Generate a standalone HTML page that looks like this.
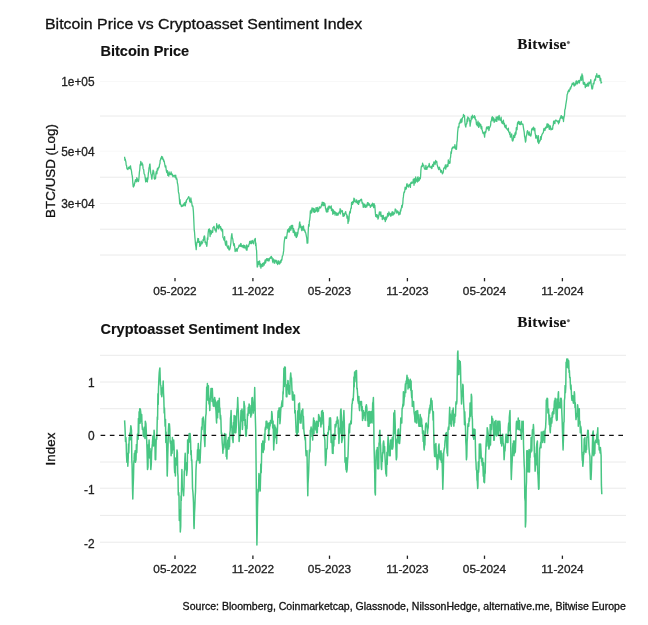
<!DOCTYPE html>
<html><head><meta charset="utf-8"><style>
html,body{margin:0;padding:0;background:#fff;}
svg{display:block;filter:blur(0.5px);}
</style></head><body>
<svg width="648" height="625" viewBox="0 0 648 625">
<rect width="648" height="625" fill="#fff"/>
<line x1="100" y1="81.5" x2="626" y2="81.5" stroke="#f8f8f8" stroke-width="1.0"/>
<line x1="100" y1="151.2" x2="626" y2="151.2" stroke="#f8f8f8" stroke-width="1.0"/>
<line x1="100" y1="203.5" x2="626" y2="203.5" stroke="#f2f2f2" stroke-width="1.0"/>
<line x1="100" y1="116.0" x2="626" y2="116.0" stroke="#eaeaea" stroke-width="1.0"/>
<line x1="100" y1="177.2" x2="626" y2="177.2" stroke="#eaeaea" stroke-width="1.0"/>
<line x1="100" y1="229.2" x2="626" y2="229.2" stroke="#eaeaea" stroke-width="1.0"/>
<line x1="100" y1="255.0" x2="626" y2="255.0" stroke="#eaeaea" stroke-width="1.0"/>
<line x1="100" y1="382.0" x2="626" y2="382.0" stroke="#eaeaea" stroke-width="1.0"/>
<line x1="100" y1="488.2" x2="626" y2="488.2" stroke="#eaeaea" stroke-width="1.0"/>
<line x1="100" y1="542.2" x2="626" y2="542.2" stroke="#eaeaea" stroke-width="1.0"/>
<line x1="100" y1="355.3" x2="626" y2="355.3" stroke="#eaeaea" stroke-width="1.0"/>
<line x1="100" y1="408.7" x2="626" y2="408.7" stroke="#eaeaea" stroke-width="1.0"/>
<line x1="100" y1="462.0" x2="626" y2="462.0" stroke="#eaeaea" stroke-width="1.0"/>
<line x1="100" y1="515.4" x2="626" y2="515.4" stroke="#eaeaea" stroke-width="1.0"/>
<path d="M124.6,156.8 L124.9,160.3 L125.3,159.0 L125.6,160.8 L125.9,162.0 L126.2,165.2 L126.6,165.7 L126.9,168.5 L127.3,169.1 L127.6,168.7 L127.9,169.6 L128.2,168.0 L128.6,167.3 L128.9,168.3 L129.2,168.6 L129.6,166.9 L129.9,168.4 L130.2,166.4 L130.5,165.9 L130.9,169.4 L131.1,169.1 L131.5,171.1 L131.9,174.3 L132.2,175.7 L132.5,177.8 L132.8,182.8 L133.2,186.7 L133.4,187.0 L133.8,186.2 L134.2,185.6 L134.5,182.9 L134.8,183.2 L135.1,181.4 L135.5,179.7 L135.8,181.3 L136.1,180.8 L136.5,181.8 L136.8,177.7 L137.1,178.4 L137.4,179.2 L137.8,180.2 L138.1,181.5 L138.5,181.4 L138.8,179.7 L139.1,175.9 L139.4,172.1 L139.8,169.5 L140.1,164.6 L140.4,165.4 L140.8,161.4 L141.1,164.7 L141.4,163.5 L141.8,165.0 L142.1,162.9 L142.3,163.5 L142.7,164.4 L143.1,168.4 L143.4,169.1 L143.7,169.7 L144.1,173.7 L144.4,174.3 L144.7,174.5 L145.1,177.2 L145.4,179.6 L145.7,181.8 L146.0,177.8 L146.3,181.4 L146.7,180.7 L147.0,178.8 L147.4,181.9 L147.7,177.5 L147.9,179.2 L148.4,172.8 L148.7,172.1 L149.0,167.8 L149.3,167.5 L149.7,164.2 L150.0,164.0 L150.3,168.7 L150.8,173.6 L151.3,175.1 L151.7,178.5 L151.9,179.2 L152.3,174.9 L152.6,174.2 L153.1,170.2 L153.3,171.0 L153.6,171.0 L154.0,174.0 L154.3,178.5 L154.8,179.2 L155.3,177.6 L155.6,178.5 L155.9,173.6 L156.4,171.3 L156.6,173.1 L156.9,173.8 L157.3,168.7 L157.6,168.5 L157.9,170.1 L158.3,167.3 L158.7,168.0 L158.9,167.3 L159.2,167.2 L159.6,164.0 L159.9,163.9 L160.2,160.3 L160.6,159.9 L160.9,157.9 L161.2,158.9 L161.6,156.5 L161.9,158.1 L162.2,157.9 L162.5,156.8 L162.9,159.7 L163.2,159.1 L163.5,159.3 L163.8,161.3 L164.2,161.0 L164.5,163.1 L164.9,165.1 L165.2,166.9 L165.5,167.1 L165.8,165.8 L166.2,170.0 L166.5,171.3 L166.8,172.5 L167.2,170.7 L167.5,170.8 L167.8,175.4 L168.2,173.7 L168.5,175.6 L168.8,176.1 L169.1,171.8 L169.5,174.0 L169.8,173.6 L170.1,174.7 L170.5,174.3 L170.8,174.4 L171.1,171.9 L171.5,174.3 L171.8,173.5 L172.1,175.1 L172.4,174.3 L172.8,176.3 L173.1,176.8 L173.4,176.1 L173.7,175.8 L174.1,175.3 L174.4,176.0 L174.8,175.7 L175.1,177.3 L175.4,176.9 L175.7,175.1 L176.1,179.0 L176.6,178.1 L177.1,180.0 L177.4,183.3 L177.7,183.9 L178.1,187.0 L178.4,191.9 L178.7,193.0 L179.0,194.2 L179.5,200.4 L179.7,203.9 L180.0,199.6 L180.4,203.8 L180.7,204.9 L181.0,204.9 L181.4,206.5 L181.7,205.6 L182.0,205.3 L182.3,206.4 L182.7,205.2 L183.0,205.4 L183.3,204.7 L183.7,205.9 L184.0,203.4 L184.4,204.9 L184.7,202.6 L185.0,204.3 L185.3,205.8 L185.6,204.0 L186.0,201.0 L186.3,202.3 L186.6,199.8 L187.0,199.6 L187.3,199.3 L187.8,198.2 L188.3,197.6 L188.6,196.7 L188.9,196.9 L189.3,198.2 L189.6,201.3 L190.0,200.4 L190.3,202.3 L190.6,200.4 L190.9,198.0 L191.3,201.6 L191.6,201.6 L191.9,203.9 L192.2,206.1 L192.6,205.7 L192.9,206.5 L193.4,211.6 L193.9,222.4 L194.2,229.6 L194.5,231.8 L194.9,237.4 L195.2,240.5 L195.5,244.5 L196.0,247.5 L196.2,249.7 L196.5,246.1 L196.9,242.2 L197.2,242.5 L197.5,241.9 L197.8,238.5 L198.2,242.1 L198.5,238.6 L198.8,242.4 L199.2,242.5 L199.5,241.6 L199.8,246.4 L200.1,245.2 L200.5,245.8 L200.8,243.8 L201.2,241.1 L201.5,242.7 L201.8,243.9 L202.3,243.0 L202.8,241.9 L203.1,239.5 L203.5,240.5 L203.8,237.7 L204.1,236.3 L204.5,235.9 L204.8,237.7 L205.1,242.5 L205.4,241.8 L205.8,242.1 L206.1,244.3 L206.4,244.2 L206.8,246.3 L207.1,243.9 L207.4,237.9 L207.8,239.5 L208.1,233.4 L208.6,229.5 L209.1,230.5 L209.4,229.0 L209.7,232.0 L210.1,236.5 L210.4,230.5 L210.7,233.6 L211.1,233.1 L211.3,234.0 L211.7,230.9 L212.0,232.5 L212.4,230.6 L212.7,232.3 L213.0,227.6 L213.5,227.3 L214.0,226.4 L214.4,228.1 L214.7,228.4 L215.0,230.2 L215.3,229.4 L215.7,229.5 L216.0,232.0 L216.3,230.6 L216.7,223.7 L217.0,227.4 L217.3,225.8 L217.7,227.7 L218.0,225.9 L218.3,228.8 L218.6,226.7 L219.1,224.6 L219.3,224.9 L219.6,226.1 L220.0,228.2 L220.3,227.5 L220.6,226.7 L221.0,229.9 L221.3,228.4 L221.6,228.5 L221.9,230.3 L222.3,231.7 L222.6,229.7 L222.9,237.2 L223.3,238.0 L223.6,238.5 L223.9,239.9 L224.3,240.4 L224.6,236.6 L224.9,240.8 L225.2,242.7 L225.6,245.1 L225.8,243.0 L226.2,242.0 L226.6,241.0 L226.9,246.1 L227.2,245.9 L227.6,248.0 L227.9,246.9 L228.2,248.1 L228.5,246.0 L228.9,249.8 L229.2,249.7 L229.5,249.9 L230.0,248.5 L230.5,245.6 L230.9,242.6 L231.2,238.4 L231.5,235.7 L231.9,233.7 L232.2,237.1 L232.5,238.4 L232.8,239.0 L233.3,243.0 L233.8,245.7 L234.2,243.7 L234.5,245.9 L234.8,247.7 L235.1,251.5 L235.6,250.4 L235.8,249.3 L236.1,250.5 L236.5,248.7 L236.8,249.7 L237.1,251.3 L237.5,249.0 L237.8,248.8 L238.3,247.6 L238.8,246.6 L239.1,245.2 L239.4,246.0 L239.8,245.3 L240.1,246.4 L240.4,244.7 L240.8,243.5 L241.1,243.9 L241.4,246.6 L241.7,246.1 L242.1,245.6 L242.4,245.8 L242.7,246.6 L243.0,247.6 L243.4,245.2 L243.7,247.5 L244.1,245.3 L244.4,247.9 L244.7,245.7 L245.0,245.6 L245.4,247.8 L245.7,247.6 L246.0,248.7 L246.4,250.1 L246.7,244.9 L247.0,250.1 L247.4,246.0 L247.7,246.2 L248.0,246.6 L248.5,246.7 L249.0,244.2 L249.3,244.1 L249.7,241.3 L250.0,242.3 L250.3,243.5 L250.7,241.1 L251.0,241.4 L251.3,243.0 L251.6,243.6 L252.0,240.8 L252.3,240.5 L252.6,242.5 L253.1,242.0 L253.6,243.8 L254.0,241.0 L254.3,239.8 L254.6,240.4 L255.0,238.9 L255.3,238.5 L255.6,245.5 L255.9,243.0 L256.3,248.8 L256.6,250.6 L256.9,259.6 L257.2,267.0 L257.6,266.7 L257.9,261.9 L258.2,264.6 L258.7,261.5 L258.9,261.9 L259.2,264.0 L259.6,261.0 L259.9,264.4 L260.2,266.7 L260.6,263.8 L260.9,268.1 L261.1,267.0 L261.5,266.3 L261.9,264.5 L262.2,266.1 L262.5,263.4 L262.9,266.5 L263.3,264.3 L263.5,263.0 L263.9,263.0 L264.2,265.0 L264.5,263.0 L264.8,261.6 L265.2,259.8 L265.5,263.2 L265.8,262.1 L266.1,260.6 L266.5,258.8 L266.8,258.7 L267.2,258.9 L267.5,260.7 L267.8,260.5 L268.1,258.7 L268.5,260.9 L268.9,259.6 L269.1,260.9 L269.5,258.3 L269.8,258.1 L270.1,258.5 L270.5,257.2 L270.8,258.0 L271.1,256.3 L271.4,256.3 L271.8,258.4 L272.1,257.6 L272.6,261.5 L273.1,262.8 L273.4,259.0 L273.8,260.2 L274.1,260.8 L274.4,260.0 L274.7,263.3 L275.1,261.8 L275.4,261.5 L275.7,260.2 L276.1,260.4 L276.4,260.7 L276.7,263.1 L277.1,263.0 L277.4,263.6 L277.7,264.6 L278.0,260.9 L278.5,263.3 L278.7,260.9 L279.0,261.9 L279.4,264.0 L279.7,263.8 L280.0,263.4 L280.4,261.3 L280.7,260.6 L281.0,262.3 L281.3,259.6 L281.7,260.4 L281.9,259.6 L282.3,256.4 L282.7,255.6 L283.0,254.9 L283.3,253.1 L283.7,250.4 L284.0,244.3 L284.3,241.4 L284.6,239.3 L285.0,237.0 L285.3,237.0 L285.6,237.3 L286.0,238.3 L286.3,236.8 L286.5,238.3 L287.0,234.8 L287.4,231.9 L287.6,229.9 L287.9,230.9 L288.3,229.4 L288.6,231.9 L288.9,228.5 L289.3,232.1 L289.6,230.6 L289.9,226.6 L290.2,229.1 L290.6,227.6 L290.9,230.2 L291.2,225.5 L291.6,228.5 L292.0,227.8 L292.2,225.3 L292.6,225.3 L292.9,229.5 L293.2,232.5 L293.6,228.7 L293.9,230.0 L294.2,230.5 L294.5,233.0 L294.9,235.7 L295.2,232.1 L295.7,235.6 L296.2,237.4 L296.5,237.5 L296.9,232.4 L297.2,236.2 L297.6,232.8 L297.8,233.9 L298.2,230.2 L298.5,228.6 L298.8,228.8 L299.2,226.7 L299.4,223.5 L299.8,222.0 L300.2,227.1 L300.5,224.7 L300.8,227.2 L301.3,228.1 L301.8,230.6 L302.1,226.5 L302.5,227.9 L302.8,227.8 L303.1,230.0 L303.5,225.8 L303.7,228.1 L304.1,230.0 L304.4,230.8 L304.8,230.1 L305.1,232.1 L305.4,231.9 L305.9,233.7 L306.4,236.3 L306.8,238.5 L307.1,243.2 L307.4,240.4 L307.8,243.0 L308.1,233.9 L308.4,227.6 L308.7,224.4 L309.1,226.1 L309.4,220.9 L309.7,220.3 L310.1,216.1 L310.4,210.8 L310.6,213.3 L311.0,212.7 L311.4,209.6 L311.7,212.8 L312.0,207.9 L312.4,209.6 L312.7,208.6 L313.0,208.3 L313.4,211.6 L313.7,208.7 L314.0,212.1 L314.3,209.0 L314.7,212.4 L315.2,211.5 L315.7,211.4 L316.0,207.7 L316.3,209.9 L316.7,209.4 L317.0,210.8 L317.3,207.4 L317.6,211.8 L318.0,208.7 L318.3,210.8 L318.6,211.1 L319.0,208.1 L319.3,206.8 L319.6,208.2 L320.0,206.9 L320.3,207.4 L320.7,207.8 L320.9,207.1 L321.3,206.2 L321.6,204.3 L321.9,204.5 L322.2,202.2 L322.6,202.5 L322.9,205.6 L323.3,203.3 L323.6,202.5 L323.9,205.6 L324.4,203.1 L324.9,203.9 L325.2,206.0 L325.6,208.8 L325.9,209.5 L326.3,211.5 L326.6,210.0 L326.9,212.2 L327.2,208.5 L327.5,208.1 L327.9,211.6 L328.2,206.8 L328.5,209.4 L328.9,208.5 L329.1,205.9 L329.5,206.9 L329.9,207.4 L330.2,208.1 L330.5,206.8 L330.9,206.9 L331.2,205.9 L331.5,210.6 L331.8,209.3 L332.2,208.9 L332.5,210.0 L332.8,214.3 L333.2,213.6 L333.5,210.0 L333.7,213.3 L334.1,213.1 L334.5,212.7 L334.8,211.3 L335.1,215.1 L335.5,212.3 L335.8,213.3 L336.1,213.0 L336.5,212.9 L336.8,215.3 L337.1,214.8 L337.4,214.3 L337.8,213.2 L338.1,215.1 L338.4,213.5 L338.8,213.3 L339.1,212.1 L339.4,211.9 L339.8,212.3 L340.1,208.7 L340.4,213.9 L340.7,209.7 L341.1,210.6 L341.4,211.6 L341.7,211.9 L342.1,211.6 L342.4,210.7 L342.7,214.1 L343.1,216.4 L343.4,213.7 L343.9,216.1 L344.4,215.6 L344.7,213.8 L345.0,213.0 L345.4,212.2 L345.7,211.6 L346.0,213.5 L346.4,214.4 L346.7,214.6 L347.0,218.2 L347.3,217.4 L347.7,216.0 L348.0,223.4 L348.4,220.9 L348.7,221.5 L349.0,219.7 L349.3,214.3 L349.7,212.1 L350.0,211.2 L350.3,212.9 L350.6,209.7 L351.0,207.8 L351.3,208.2 L351.6,202.4 L352.0,202.4 L352.2,201.9 L352.6,204.4 L353.0,203.1 L353.3,201.2 L353.6,202.4 L353.9,198.2 L354.3,201.5 L354.6,198.8 L355.1,200.7 L355.6,201.8 L355.9,202.2 L356.3,201.6 L356.6,199.8 L356.9,202.5 L357.2,201.4 L357.6,203.6 L358.0,201.9 L358.2,200.9 L358.6,204.4 L358.9,201.9 L359.2,200.5 L359.6,202.0 L359.9,201.1 L360.2,200.7 L360.7,199.6 L361.2,199.4 L361.5,199.1 L361.9,201.6 L362.2,203.5 L362.5,203.5 L362.9,203.0 L363.2,207.3 L363.5,203.8 L363.8,205.3 L364.2,207.0 L364.5,204.1 L364.8,204.7 L365.2,206.1 L365.5,207.4 L365.8,205.4 L366.3,205.2 L366.8,207.0 L367.1,204.8 L367.5,202.7 L367.8,205.0 L368.1,202.7 L368.5,203.6 L368.8,205.2 L369.1,203.7 L369.6,205.2 L370.1,205.9 L370.4,207.3 L370.8,206.3 L371.1,205.1 L371.4,204.7 L371.8,204.4 L372.1,206.2 L372.4,203.2 L372.8,205.0 L373.0,204.1 L373.4,204.0 L373.7,207.7 L374.1,203.7 L374.4,205.4 L374.8,205.2 L375.1,209.3 L375.4,213.4 L375.7,216.4 L376.1,216.5 L376.4,214.6 L376.7,217.0 L377.0,214.8 L377.4,215.2 L377.7,216.7 L378.0,219.1 L378.4,217.8 L378.6,216.9 L379.0,214.4 L379.4,211.8 L379.7,213.8 L380.0,213.2 L380.3,214.9 L380.8,211.9 L381.0,216.4 L381.3,215.7 L381.7,215.4 L382.0,215.4 L382.3,219.5 L382.7,216.6 L383.1,217.5 L383.3,215.5 L383.6,218.8 L384.0,218.1 L384.3,219.1 L384.6,219.5 L385.0,217.5 L385.3,221.6 L385.7,219.8 L386.0,216.9 L386.3,219.5 L386.6,217.1 L386.9,218.0 L387.3,216.4 L387.6,213.5 L387.9,214.7 L388.3,216.1 L388.7,215.3 L388.9,211.8 L389.3,213.7 L389.6,214.7 L389.9,213.9 L390.2,213.5 L390.6,216.1 L390.9,216.1 L391.2,215.7 L391.6,212.9 L392.0,214.2 L392.2,211.7 L392.6,215.1 L392.9,213.5 L393.2,212.2 L393.5,214.9 L393.9,213.6 L394.2,213.4 L394.5,213.6 L394.9,212.5 L395.2,209.0 L395.4,210.8 L395.9,209.6 L396.2,210.9 L396.5,211.5 L396.8,213.1 L397.2,212.9 L397.6,210.8 L397.8,212.7 L398.2,212.5 L398.5,212.0 L398.8,214.9 L399.2,214.0 L399.5,212.5 L399.8,214.2 L400.1,214.2 L400.5,209.8 L400.8,211.2 L401.1,208.8 L401.5,207.8 L401.8,205.3 L402.1,207.5 L402.5,204.9 L402.8,203.5 L403.1,198.7 L403.4,196.9 L403.7,194.0 L404.1,192.0 L404.4,192.4 L404.8,190.8 L405.1,187.2 L405.4,188.4 L405.8,189.4 L406.1,188.6 L406.4,188.4 L406.7,184.3 L407.1,183.7 L407.4,186.1 L407.7,186.4 L408.1,185.7 L408.4,187.0 L408.8,186.2 L409.1,184.4 L409.4,185.5 L409.7,184.9 L410.0,184.2 L410.4,187.4 L410.7,182.8 L411.0,182.8 L411.4,182.1 L411.7,183.4 L412.0,183.4 L412.4,182.1 L412.7,182.9 L413.0,182.2 L413.3,179.2 L413.7,179.2 L414.0,185.3 L414.4,181.7 L414.7,178.6 L415.0,179.1 L415.3,182.9 L415.7,177.0 L416.0,179.6 L416.3,181.2 L416.6,179.5 L417.0,179.2 L417.3,182.0 L417.6,177.5 L418.0,176.9 L418.3,179.4 L418.6,181.1 L419.0,178.6 L419.3,180.3 L419.6,177.7 L420.0,178.4 L420.3,178.7 L420.6,176.1 L420.9,170.4 L421.3,166.7 L421.6,166.0 L421.9,166.7 L422.3,166.4 L422.6,163.1 L422.9,165.5 L423.4,164.9 L423.9,165.9 L424.2,168.1 L424.6,168.2 L424.9,169.2 L425.1,169.4 L425.6,168.8 L425.9,165.3 L426.2,169.2 L426.5,167.7 L426.9,169.3 L427.2,167.3 L427.5,167.1 L427.9,167.3 L428.2,166.6 L428.5,165.6 L428.9,166.0 L429.2,163.5 L429.5,165.5 L429.8,167.0 L430.2,166.6 L430.5,166.9 L430.8,167.2 L431.2,168.0 L431.5,166.5 L431.8,168.5 L432.3,166.0 L432.8,164.3 L433.1,165.1 L433.5,166.4 L433.8,162.4 L434.1,161.8 L434.5,163.6 L434.8,162.8 L435.1,164.5 L435.5,162.4 L435.7,160.4 L436.1,162.0 L436.4,162.4 L436.8,161.6 L437.1,164.8 L437.4,165.5 L437.9,167.2 L438.4,168.8 L438.8,169.6 L439.1,167.4 L439.4,167.1 L439.7,168.6 L440.1,169.4 L440.4,169.7 L440.7,172.2 L441.1,171.8 L441.4,170.4 L441.7,171.9 L442.1,172.2 L442.4,173.9 L442.7,172.6 L443.0,173.0 L443.4,171.0 L443.7,168.4 L444.0,167.9 L444.4,168.1 L444.6,167.2 L445.0,166.8 L445.4,164.8 L445.7,169.1 L446.0,167.2 L446.3,167.2 L446.7,167.0 L447.0,164.7 L447.3,165.7 L447.7,166.5 L448.0,166.0 L448.3,159.8 L448.7,163.3 L449.0,163.1 L449.3,163.4 L449.6,161.3 L450.0,163.0 L450.2,158.2 L450.6,157.2 L451.0,151.7 L451.3,153.4 L451.6,151.1 L452.0,148.1 L452.3,148.7 L452.6,147.1 L452.9,147.5 L453.3,147.2 L453.6,147.8 L453.9,146.6 L454.3,148.0 L454.7,147.0 L454.9,144.6 L455.3,146.9 L455.6,149.0 L455.9,148.6 L456.2,148.8 L456.5,149.3 L456.9,142.0 L457.2,140.8 L457.6,132.5 L458.0,129.1 L458.2,127.0 L458.6,127.5 L458.9,127.2 L459.2,123.1 L459.5,123.7 L459.9,122.1 L460.3,121.3 L460.5,119.8 L460.9,122.8 L461.2,118.9 L461.4,120.1 L461.9,122.0 L462.2,118.8 L462.5,117.8 L462.8,117.5 L463.2,116.7 L463.5,114.4 L463.8,115.7 L464.2,116.1 L464.5,115.6 L464.8,121.1 L465.2,124.8 L465.5,126.0 L465.8,127.1 L466.1,124.7 L466.5,123.9 L466.8,123.7 L467.1,118.9 L467.5,121.6 L467.8,116.8 L468.1,117.9 L468.5,118.2 L468.8,118.0 L469.1,118.6 L469.4,120.9 L469.8,120.4 L470.1,126.2 L470.4,123.7 L470.8,121.7 L471.1,119.8 L471.4,116.6 L471.8,119.1 L472.1,119.0 L472.4,115.1 L472.7,116.7 L473.1,116.6 L473.4,117.3 L473.7,117.5 L474.1,117.4 L474.4,115.6 L474.7,118.1 L475.0,116.7 L475.4,119.7 L475.7,119.6 L476.0,119.6 L476.4,124.2 L476.7,124.8 L477.0,122.9 L477.4,125.9 L477.7,124.2 L478.0,121.2 L478.4,125.4 L478.7,127.3 L479.0,126.8 L479.3,122.9 L479.7,123.7 L480.0,125.9 L480.3,125.3 L480.7,124.3 L481.0,128.1 L481.3,128.7 L481.7,126.4 L482.0,129.4 L482.3,130.2 L482.6,131.9 L483.0,133.1 L483.3,133.6 L483.6,133.3 L484.0,132.2 L484.3,135.2 L484.6,137.2 L485.0,132.8 L485.3,131.6 L485.6,132.8 L485.9,131.7 L486.3,128.8 L486.6,127.1 L486.9,128.5 L487.3,126.8 L487.6,128.4 L487.9,128.9 L488.3,128.9 L488.6,126.7 L488.9,130.6 L489.2,129.1 L489.6,127.2 L489.9,127.3 L490.2,126.4 L490.6,125.3 L490.9,121.3 L491.2,121.4 L491.6,119.5 L491.9,117.3 L492.4,116.7 L492.9,120.8 L493.2,117.7 L493.5,118.0 L493.9,118.3 L494.2,122.4 L494.7,120.2 L495.2,119.7 L495.5,119.6 L495.8,121.2 L496.2,116.9 L496.5,119.0 L496.8,121.4 L497.2,117.7 L497.5,118.0 L497.8,116.7 L498.2,117.9 L498.5,119.9 L498.8,117.4 L499.1,115.4 L499.5,118.9 L499.8,118.8 L500.1,120.4 L500.5,119.0 L500.8,120.1 L501.1,117.1 L501.5,122.2 L501.8,121.2 L502.1,123.2 L502.4,123.6 L502.8,122.5 L503.1,121.6 L503.4,120.2 L503.8,123.9 L504.1,124.9 L504.4,123.4 L504.8,126.9 L505.1,126.4 L505.4,127.5 L505.7,126.1 L506.1,125.1 L506.3,128.3 L506.7,128.8 L507.1,128.8 L507.4,129.5 L507.7,130.2 L508.1,130.1 L508.4,128.2 L508.6,131.8 L509.0,132.1 L509.4,132.8 L509.7,134.4 L510.0,132.1 L510.4,137.2 L510.7,137.0 L510.9,136.4 L511.4,135.8 L511.7,133.9 L512.0,138.6 L512.3,140.7 L512.7,141.0 L513.2,139.9 L513.7,135.4 L514.0,136.1 L514.3,135.1 L514.7,137.5 L515.0,132.8 L515.3,135.3 L515.6,131.8 L516.0,134.0 L516.3,127.7 L516.6,129.1 L517.0,129.7 L517.3,125.0 L517.6,122.7 L517.9,123.7 L518.3,121.5 L518.6,121.5 L518.9,122.3 L519.3,124.3 L519.6,122.0 L519.9,123.3 L520.3,124.7 L520.6,123.8 L520.9,123.9 L521.3,121.3 L521.6,124.2 L521.9,123.9 L522.2,124.3 L522.6,123.9 L522.9,124.2 L523.2,126.1 L523.7,129.4 L524.2,132.2 L524.6,136.6 L524.9,137.4 L525.2,140.0 L525.5,142.2 L525.9,140.7 L526.2,135.9 L526.5,136.0 L526.9,133.5 L527.1,131.8 L527.5,130.6 L527.9,132.1 L528.2,132.1 L528.5,134.8 L528.8,135.0 L529.2,131.9 L529.5,135.1 L529.8,133.7 L530.2,135.5 L530.6,135.2 L530.8,136.2 L531.2,134.4 L531.5,130.8 L531.8,128.9 L532.1,130.2 L532.5,128.2 L532.8,128.7 L533.1,129.3 L533.6,127.1 L534.1,130.7 L534.5,129.3 L534.8,128.4 L535.1,133.5 L535.4,134.2 L535.8,138.1 L536.1,137.7 L536.4,136.4 L536.8,135.5 L537.1,138.2 L537.4,138.1 L537.8,142.0 L538.1,140.8 L538.4,135.7 L538.7,143.5 L539.2,142.2 L539.4,140.9 L539.7,141.1 L540.1,140.9 L540.4,139.3 L540.7,136.6 L541.1,139.4 L541.4,136.9 L541.7,135.4 L542.2,134.1 L542.7,133.4 L543.0,133.0 L543.4,132.3 L543.7,129.6 L544.0,128.5 L544.4,130.0 L544.7,129.6 L545.0,130.5 L545.3,128.4 L545.6,127.1 L546.0,128.1 L546.3,128.0 L546.7,126.6 L547.0,123.8 L547.3,127.3 L547.7,124.0 L548.0,124.8 L548.3,126.5 L548.6,124.5 L549.0,127.9 L549.3,129.4 L549.6,128.9 L550.0,125.6 L550.3,126.4 L550.6,127.0 L551.0,129.9 L551.4,129.4 L551.6,129.4 L551.9,129.0 L552.3,128.4 L552.6,129.3 L552.9,125.7 L553.3,125.3 L553.6,121.2 L553.8,123.7 L554.3,121.1 L554.6,122.9 L554.9,123.7 L555.2,120.8 L555.6,120.2 L556.1,120.2 L556.6,121.0 L556.9,121.0 L557.2,121.1 L557.6,121.9 L557.9,120.8 L558.2,121.1 L558.5,123.8 L558.9,121.0 L559.2,122.5 L559.5,121.3 L559.9,119.5 L560.2,117.9 L560.5,118.2 L560.9,116.3 L561.2,115.6 L561.4,115.6 L561.8,118.1 L562.2,117.2 L562.5,118.6 L562.8,116.7 L563.2,118.4 L563.5,121.5 L563.7,119.0 L564.2,116.4 L564.5,115.2 L564.8,109.9 L565.3,108.6 L565.8,104.6 L566.1,102.8 L566.5,100.4 L566.8,98.5 L567.1,94.7 L567.6,93.6 L568.1,91.2 L568.4,91.2 L568.8,90.0 L569.1,91.6 L569.4,90.0 L569.8,90.0 L570.1,88.0 L570.6,88.9 L571.1,86.4 L571.4,86.6 L571.7,85.2 L572.1,84.1 L572.3,83.1 L572.7,84.2 L573.1,84.5 L573.4,83.8 L573.7,82.7 L574.1,86.0 L574.4,85.6 L574.6,85.5 L575.0,85.0 L575.4,83.2 L575.7,84.8 L576.0,81.1 L576.4,83.6 L576.7,80.9 L577.0,82.4 L577.4,83.8 L577.7,81.9 L578.1,82.0 L578.3,81.2 L578.7,80.7 L579.0,80.4 L579.3,83.1 L579.7,81.4 L580.0,80.8 L580.4,79.7 L580.7,77.0 L581.0,79.2 L581.3,76.0 L581.6,80.3 L582.0,73.8 L582.2,76.2 L582.6,75.5 L583.0,79.6 L583.3,84.0 L583.8,84.3 L584.3,82.5 L584.6,82.8 L584.9,83.6 L585.3,87.7 L585.6,85.0 L585.9,84.6 L586.3,84.5 L586.6,86.2 L586.9,86.4 L587.3,85.5 L587.6,83.2 L587.9,83.9 L588.2,84.5 L588.6,86.0 L588.9,82.2 L589.2,82.6 L589.6,83.7 L589.9,82.1 L590.2,82.3 L590.6,81.7 L590.8,79.7 L591.2,84.6 L591.5,85.8 L591.9,88.9 L592.2,86.3 L592.5,88.9 L592.9,86.2 L593.2,83.4 L593.5,83.9 L593.9,83.9 L594.3,80.8 L594.5,80.1 L594.8,79.4 L595.2,78.8 L595.5,80.1 L595.8,75.8 L596.2,76.4 L596.6,76.2 L596.8,73.7 L597.2,77.3 L597.5,76.6 L597.8,76.5 L598.1,77.1 L598.5,75.5 L598.9,77.4 L599.1,76.7 L599.5,75.4 L599.8,77.2 L600.1,80.5 L600.5,78.3 L600.7,78.5 L601.1,83.2 L601.4,82.1 L601.7,83.1" fill="none" stroke="#48c683" stroke-width="1.3" stroke-linejoin="round"/>
<path d="M124.6,420.4 L124.9,425.6 L125.2,432.4 L125.5,441.4 L125.9,437.5 L126.2,443.4 L126.5,454.7 L126.9,462.2 L127.2,456.4 L127.5,453.6 L127.8,466.3 L128.2,458.4 L128.5,444.0 L128.8,453.0 L129.2,437.6 L129.5,440.1 L129.8,433.1 L130.2,439.7 L130.5,429.9 L130.8,425.7 L131.1,427.0 L131.5,430.5 L131.8,460.0 L132.1,464.9 L132.5,488.0 L132.8,499.1 L133.1,487.2 L133.5,477.3 L133.8,463.1 L134.1,459.9 L134.4,453.2 L134.8,458.5 L135.1,450.7 L135.4,462.3 L135.8,460.5 L136.0,459.8 L136.4,444.5 L136.8,452.6 L137.1,444.2 L137.4,434.3 L137.7,436.8 L138.1,439.3 L138.4,418.4 L138.7,433.7 L139.1,411.7 L139.4,419.1 L139.7,408.8 L140.1,423.3 L140.3,408.9 L140.7,411.8 L141.1,421.0 L141.4,421.6 L141.7,414.6 L142.0,423.9 L142.4,429.5 L142.6,427.0 L143.0,428.6 L143.4,436.2 L143.7,429.7 L144.0,435.7 L144.2,436.8 L144.7,427.0 L145.0,438.6 L145.3,421.2 L145.9,423.7 L146.3,431.6 L146.7,440.8 L147.0,448.9 L147.5,469.6 L148.0,467.1 L148.3,444.8 L148.6,449.9 L149.1,440.1 L149.6,458.1 L150.0,448.5 L150.3,453.9 L150.8,469.6 L151.3,464.3 L151.6,452.2 L151.9,448.9 L152.4,443.4 L152.9,436.1 L153.3,438.3 L153.6,445.9 L154.1,430.2 L154.6,437.5 L154.9,439.6 L155.2,459.6 L155.7,459.8 L155.9,451.1 L156.2,440.0 L156.6,439.5 L156.9,435.6 L157.3,417.1 L157.6,419.6 L157.9,393.8 L158.2,404.5 L158.5,388.4 L158.9,379.1 L159.2,373.2 L159.6,369.6 L159.9,367.9 L160.2,378.3 L160.5,385.2 L160.9,385.5 L161.2,394.8 L161.6,394.2 L161.8,396.7 L162.2,390.4 L162.5,387.6 L162.8,389.1 L163.2,381.1 L163.5,392.7 L163.8,397.8 L164.2,413.0 L164.5,407.9 L164.9,420.4 L165.1,426.3 L165.5,419.3 L165.8,442.6 L166.1,432.0 L166.5,440.1 L166.8,451.4 L167.2,476.1 L167.5,468.3 L167.8,454.5 L168.1,444.2 L168.4,429.8 L168.8,423.7 L169.1,429.5 L169.4,423.9 L169.8,429.2 L170.1,441.6 L170.5,443.4 L170.8,440.9 L171.1,455.7 L171.4,450.4 L171.7,443.9 L172.1,453.2 L172.4,437.6 L172.7,449.9 L173.1,442.2 L173.4,448.3 L173.7,440.1 L174.1,447.0 L174.4,467.4 L174.7,472.8 L175.0,461.9 L175.4,476.1 L175.7,458.0 L176.0,465.4 L176.4,460.6 L176.7,458.3 L177.0,449.9 L177.4,452.4 L177.7,472.8 L178.0,476.1 L178.3,495.0 L178.7,492.5 L179.0,496.1 L179.3,520.5 L179.7,509.6 L180.0,512.2 L180.3,531.9 L180.7,526.4 L181.0,496.0 L181.3,500.6 L181.6,483.8 L181.9,469.6 L182.3,487.8 L182.6,489.2 L183.0,489.6 L183.3,492.7 L183.6,495.8 L184.0,486.2 L184.3,471.1 L184.6,470.6 L184.9,459.0 L185.2,453.2 L185.6,469.0 L185.9,467.8 L186.3,462.8 L186.6,475.4 L186.9,472.9 L187.3,469.0 L187.6,440.1 L187.9,448.9 L188.2,453.2 L188.5,440.1 L188.9,437.7 L189.2,433.5 L189.6,441.9 L189.9,435.8 L190.1,433.5 L190.6,441.2 L190.9,454.7 L191.2,450.6 L191.5,460.7 L191.8,459.8 L192.2,470.4 L192.5,488.1 L192.9,491.8 L193.2,496.5 L193.5,503.0 L193.9,526.0 L194.1,528.6 L194.5,513.2 L194.8,507.7 L195.2,496.5 L195.5,491.7 L196.0,469.6 L196.5,461.0 L196.8,461.1 L197.2,460.0 L197.5,449.8 L197.8,454.0 L198.3,443.4 L198.8,460.5 L199.1,449.8 L199.5,463.0 L200.0,463.0 L200.5,451.2 L200.8,442.8 L201.1,439.2 L201.6,427.0 L202.1,429.5 L202.4,418.4 L202.8,421.6 L203.2,417.1 L203.8,421.4 L204.1,431.7 L204.4,438.9 L204.9,446.6 L205.4,426.8 L205.7,416.3 L206.1,413.7 L206.5,397.5 L206.7,387.1 L207.1,400.0 L207.4,383.5 L207.7,400.0 L208.2,386.0 L208.4,385.8 L208.7,398.4 L209.0,404.0 L209.4,401.2 L209.8,410.6 L210.0,402.7 L210.4,397.4 L210.7,394.5 L211.0,388.4 L211.4,390.9 L211.7,388.4 L212.0,401.5 L212.3,388.4 L212.7,397.5 L213.1,404.0 L213.3,405.9 L213.7,404.1 L214.0,406.5 L214.3,399.3 L214.7,397.5 L215.0,403.2 L215.3,399.9 L215.6,407.1 L216.0,410.9 L216.4,420.4 L216.6,422.9 L217.0,401.9 L217.3,411.5 L217.6,417.7 L218.0,400.7 L218.3,407.5 L218.6,412.1 L218.9,409.2 L219.3,398.2 L219.6,410.6 L219.9,408.1 L220.3,419.0 L220.6,415.2 L220.9,419.4 L221.3,433.5 L221.6,432.8 L221.9,435.7 L222.2,442.8 L222.6,446.9 L222.9,453.2 L223.2,446.3 L223.6,449.2 L223.9,444.1 L224.2,439.3 L224.6,433.5 L224.9,441.9 L225.2,440.1 L225.5,447.7 L225.9,434.3 L226.2,456.5 L226.5,453.5 L226.9,459.0 L227.2,448.7 L227.5,444.2 L227.8,440.1 L228.2,449.1 L228.5,437.6 L228.8,449.1 L229.2,445.1 L229.5,446.6 L229.8,433.8 L230.2,430.5 L230.5,418.7 L230.8,416.2 L231.1,410.6 L231.5,427.2 L231.8,425.8 L232.1,433.3 L232.5,439.3 L232.8,440.1 L233.1,442.6 L233.5,422.5 L233.8,427.6 L234.1,415.6 L234.4,417.1 L234.8,432.7 L235.1,416.0 L235.4,416.7 L235.8,432.7 L236.0,430.2 L236.4,425.2 L236.8,412.4 L237.1,408.6 L237.4,407.8 L237.7,397.5 L238.1,408.0 L238.4,413.3 L238.7,424.8 L239.1,441.6 L239.3,440.1 L239.7,430.7 L240.1,436.0 L240.4,423.0 L240.7,419.0 L241.0,410.6 L241.4,411.1 L241.7,420.7 L242.0,408.9 L242.4,429.5 L242.6,427.0 L243.0,411.5 L243.4,418.8 L243.7,420.2 L244.0,401.5 L244.2,404.0 L244.7,406.3 L245.0,425.4 L245.3,419.4 L245.7,436.0 L245.9,433.5 L246.3,436.0 L246.7,425.8 L247.0,428.7 L247.5,413.9 L248.0,415.5 L248.3,407.3 L248.6,413.1 L249.1,404.0 L249.6,413.0 L250.0,405.5 L250.3,410.1 L250.8,417.1 L251.3,410.3 L251.6,415.1 L251.9,398.0 L252.4,397.5 L252.9,403.5 L253.3,413.1 L253.6,407.9 L254.1,410.6 L254.7,387.6 L255.2,412.8 L255.7,430.2 L256.2,475.0 L256.6,520.5 L256.9,545.0 L257.2,530.3 L257.5,508.0 L258.0,489.3 L258.2,490.3 L258.5,491.8 L258.9,473.6 L259.2,476.0 L259.5,488.1 L259.9,484.6 L260.2,491.0 L260.6,476.1 L260.8,463.9 L261.2,472.7 L261.5,460.9 L261.8,443.7 L262.3,443.4 L262.5,446.2 L262.8,440.9 L263.2,452.4 L263.5,447.8 L263.9,449.9 L264.1,449.0 L264.5,434.0 L264.8,442.5 L265.1,429.3 L265.5,427.0 L265.8,429.5 L266.1,421.2 L266.5,421.2 L266.8,421.2 L267.2,423.7 L267.4,428.0 L267.8,423.7 L268.1,428.2 L268.4,423.5 L268.8,440.1 L269.1,422.8 L269.4,429.7 L269.8,424.6 L270.1,426.0 L270.5,420.4 L270.7,422.9 L271.1,422.9 L271.4,422.9 L271.7,411.4 L272.1,413.9 L272.4,420.0 L272.7,428.0 L273.1,421.0 L273.4,433.4 L273.7,449.9 L274.0,443.5 L274.4,438.7 L274.7,424.9 L275.0,437.7 L275.4,427.0 L275.7,428.5 L276.0,434.8 L276.4,432.2 L276.6,443.4 L277.0,428.9 L277.3,433.3 L277.7,422.0 L278.0,412.2 L278.3,410.6 L278.7,417.2 L279.0,408.1 L279.3,416.4 L279.7,408.1 L279.9,423.7 L280.3,419.6 L280.6,412.8 L281.0,407.1 L281.3,407.6 L281.6,404.0 L282.0,401.6 L282.3,400.4 L282.6,406.5 L283.0,391.7 L283.2,394.2 L283.6,381.7 L283.9,368.2 L284.3,386.6 L284.6,367.1 L284.8,369.6 L285.3,367.2 L285.6,383.8 L285.9,384.5 L286.3,396.7 L286.5,394.2 L286.9,396.7 L287.2,384.7 L287.6,387.2 L287.9,380.6 L288.1,381.1 L288.6,389.5 L288.9,394.0 L289.2,385.9 L289.8,394.2 L290.2,379.4 L290.7,372.9 L291.2,379.4 L291.5,378.1 L292.0,390.9 L292.5,400.0 L292.9,391.9 L293.2,396.8 L293.5,400.0 L294.0,397.5 L294.5,395.0 L294.8,413.1 L295.3,410.6 L295.8,423.3 L296.2,432.4 L296.5,427.3 L296.8,435.9 L297.3,433.5 L297.8,410.7 L298.1,432.3 L298.6,404.0 L299.1,419.2 L299.5,402.9 L299.8,412.0 L300.1,422.9 L300.6,420.4 L300.8,418.2 L301.1,422.9 L301.4,414.3 L301.9,410.6 L302.1,415.3 L302.4,412.9 L302.8,409.1 L303.1,428.8 L303.4,416.2 L303.9,430.2 L304.1,432.2 L304.4,434.7 L304.7,437.2 L305.2,440.1 L305.4,437.6 L305.7,449.1 L306.1,455.7 L306.4,452.0 L306.8,453.2 L307.0,450.7 L307.4,476.6 L307.8,495.8 L308.0,484.0 L308.4,477.0 L308.7,470.3 L309.0,460.3 L309.4,449.9 L309.7,452.1 L310.0,450.7 L310.3,430.3 L310.7,430.6 L311.1,427.0 L311.3,428.9 L311.7,429.2 L312.0,436.4 L312.3,434.6 L312.7,440.1 L313.0,427.2 L313.3,423.4 L313.6,417.9 L314.0,433.5 L314.3,420.4 L314.6,424.6 L315.0,429.1 L315.3,423.4 L315.6,425.1 L316.0,430.2 L316.3,421.4 L316.6,432.7 L316.9,421.2 L317.3,432.7 L317.6,423.7 L317.9,426.2 L318.3,426.2 L318.6,414.6 L318.9,415.5 L319.3,417.1 L319.6,421.0 L319.9,420.7 L320.2,418.1 L320.6,422.8 L320.9,427.0 L321.2,423.0 L321.6,411.3 L321.9,424.1 L322.2,413.6 L322.5,410.6 L322.9,417.7 L323.2,412.5 L323.5,420.2 L323.9,436.0 L324.2,433.5 L324.5,437.2 L324.9,440.1 L325.2,455.8 L325.5,465.5 L325.8,463.0 L326.2,457.6 L326.5,448.7 L326.8,449.3 L327.2,448.2 L327.5,436.8 L327.8,432.6 L328.2,434.3 L328.5,430.8 L328.8,426.2 L329.1,427.0 L329.5,417.9 L329.8,429.5 L330.1,418.9 L330.5,417.9 L330.7,420.4 L331.1,442.6 L331.5,434.7 L331.8,442.9 L332.1,443.2 L332.4,453.2 L332.8,442.8 L333.1,453.6 L333.4,434.3 L333.8,446.1 L334.0,436.8 L334.4,434.3 L334.8,439.3 L335.1,424.5 L335.4,424.5 L335.7,427.0 L336.1,425.5 L336.4,421.2 L336.7,423.4 L337.1,421.2 L337.3,417.1 L337.7,422.5 L338.1,420.1 L338.4,434.1 L338.7,432.4 L338.9,443.4 L339.4,434.2 L339.7,428.1 L340.0,433.2 L340.6,410.6 L341.0,408.9 L341.4,417.1 L341.7,442.6 L342.2,440.1 L342.7,437.5 L343.0,421.2 L343.3,421.2 L343.9,410.6 L344.3,422.3 L344.7,441.3 L345.0,462.3 L345.5,459.8 L346.0,469.8 L346.3,457.8 L346.6,472.1 L347.1,469.6 L347.6,460.5 L348.0,456.1 L348.3,446.8 L348.8,430.2 L349.3,424.1 L349.6,432.7 L349.9,425.2 L350.4,423.7 L350.9,420.8 L351.3,423.8 L351.6,412.8 L352.0,404.0 L352.3,403.6 L352.6,399.4 L352.9,398.5 L353.2,400.2 L353.7,390.9 L353.9,377.1 L354.2,387.0 L354.6,372.0 L354.9,381.6 L355.3,374.5 L355.6,376.2 L355.9,370.7 L356.3,372.9 L356.5,370.4 L356.9,388.9 L357.2,388.1 L357.6,394.2 L357.9,400.8 L358.2,401.9 L358.5,403.5 L358.9,396.6 L359.2,407.4 L359.6,410.6 L359.8,407.1 L360.2,401.5 L360.5,404.7 L360.9,404.0 L361.2,401.5 L361.5,401.5 L361.8,410.9 L362.2,406.5 L362.5,420.4 L362.8,411.0 L363.1,418.6 L363.5,410.6 L363.8,413.7 L364.1,415.4 L364.5,413.1 L364.8,412.5 L365.2,420.4 L365.5,413.1 L365.8,406.5 L366.1,405.9 L366.4,404.8 L366.8,407.3 L367.1,412.2 L367.4,420.6 L367.8,412.7 L368.1,426.2 L368.4,423.7 L368.8,411.4 L369.1,426.2 L369.4,411.4 L369.7,412.1 L370.1,413.9 L370.4,422.9 L370.7,413.3 L371.1,411.4 L371.4,421.9 L371.7,420.4 L372.1,422.9 L372.4,413.8 L372.7,402.7 L373.0,403.5 L373.4,397.5 L373.7,414.2 L374.0,443.6 L374.4,458.9 L374.7,472.4 L375.0,492.5 L375.4,495.0 L375.7,470.1 L376.0,457.4 L376.3,452.2 L376.6,449.9 L377.0,454.4 L377.3,447.4 L377.7,468.8 L378.0,468.1 L378.3,466.3 L378.7,468.8 L379.0,443.0 L379.3,444.8 L379.6,432.1 L379.9,430.2 L380.3,443.1 L380.6,445.4 L381.0,457.9 L381.3,467.0 L381.6,469.6 L382.0,457.3 L382.3,461.5 L382.6,452.5 L382.9,453.7 L383.2,443.4 L383.6,440.9 L383.9,443.5 L384.3,452.1 L384.6,446.6 L384.8,453.2 L385.3,462.5 L385.6,469.4 L385.9,473.9 L386.2,472.9 L386.5,476.1 L386.9,452.2 L387.2,464.6 L387.6,449.4 L387.9,440.3 L388.1,436.8 L388.6,443.7 L388.9,446.0 L389.2,455.7 L389.5,455.5 L389.8,453.2 L390.2,455.7 L390.5,440.1 L390.9,447.8 L391.4,440.1 L391.9,449.1 L392.2,437.6 L392.5,449.1 L393.0,446.6 L393.5,430.0 L393.8,412.9 L394.2,433.5 L394.7,410.6 L395.2,424.6 L395.5,438.7 L395.8,444.3 L396.3,459.8 L396.8,456.9 L397.1,438.9 L397.5,442.5 L398.0,430.2 L398.5,428.9 L398.8,438.6 L399.1,443.4 L399.6,443.4 L400.1,436.7 L400.4,430.4 L400.8,417.9 L401.2,420.4 L401.8,422.9 L402.1,408.2 L402.4,408.6 L402.9,404.0 L403.1,406.5 L403.4,391.7 L403.7,405.3 L404.1,399.8 L404.5,394.2 L404.7,396.7 L405.1,388.7 L405.4,383.8 L405.7,392.6 L406.1,381.1 L406.4,383.6 L406.7,379.5 L407.0,375.3 L407.4,379.0 L407.8,377.8 L408.0,388.9 L408.4,379.2 L408.7,385.3 L409.0,380.8 L409.4,387.6 L409.7,382.5 L410.0,384.8 L410.3,379.3 L410.7,390.1 L411.1,381.1 L411.3,391.7 L411.7,397.7 L412.0,390.4 L412.3,406.5 L412.7,404.0 L413.0,405.0 L413.3,401.5 L413.6,401.5 L414.0,411.4 L414.3,413.9 L414.6,415.5 L415.0,422.0 L415.3,421.2 L415.6,411.4 L416.0,420.4 L416.3,422.9 L416.6,411.0 L416.9,422.9 L417.3,411.0 L417.6,410.6 L417.9,415.0 L418.3,414.7 L418.6,420.0 L418.9,426.2 L419.3,423.7 L419.6,422.4 L419.9,426.2 L420.2,414.6 L420.6,426.2 L420.9,417.1 L421.2,419.5 L421.6,418.8 L421.9,426.9 L422.2,425.0 L422.5,433.5 L422.9,432.6 L423.2,441.5 L423.5,431.0 L423.9,447.4 L424.2,449.9 L424.5,445.1 L424.9,445.0 L425.2,432.9 L425.5,426.3 L425.8,423.7 L426.2,423.0 L426.5,423.7 L426.8,426.1 L427.2,427.7 L427.5,433.5 L427.8,429.6 L428.2,427.7 L428.5,418.3 L428.8,415.8 L429.1,410.6 L429.5,408.1 L429.8,412.9 L430.1,405.1 L430.5,409.8 L430.7,400.7 L431.1,398.2 L431.5,403.2 L431.8,402.8 L432.0,400.7 L432.4,410.2 L432.8,411.6 L433.1,420.1 L433.4,411.8 L433.6,427.0 L434.1,447.9 L434.6,456.5 L435.1,444.7 L435.4,456.6 L435.9,443.4 L436.4,458.2 L436.7,454.5 L437.2,469.6 L437.7,467.5 L438.1,459.9 L438.6,446.6 L439.0,444.1 L439.4,457.7 L439.7,451.3 L440.2,459.8 L440.7,457.9 L441.0,450.7 L441.4,462.3 L441.8,453.2 L442.3,466.8 L442.8,489.3 L443.3,473.4 L443.7,452.8 L444.1,449.9 L444.7,446.9 L445.0,441.2 L445.3,439.6 L445.8,433.5 L446.0,436.1 L446.3,432.6 L446.6,442.4 L447.1,453.2 L447.3,445.7 L447.6,455.7 L448.0,430.2 L448.4,427.0 L448.6,429.5 L448.9,429.5 L449.3,417.2 L449.7,407.3 L449.9,417.4 L450.3,414.0 L450.6,424.1 L451.0,423.7 L451.3,426.2 L451.6,423.9 L451.9,414.1 L452.3,410.6 L452.6,417.2 L452.9,419.8 L453.2,408.1 L453.6,423.7 L453.9,426.2 L454.2,414.7 L454.6,422.7 L455.0,413.9 L455.2,416.4 L455.5,415.8 L455.9,403.2 L456.2,401.6 L456.6,404.0 L456.9,401.2 L457.2,382.2 L457.6,353.2 L457.9,351.0 L458.2,365.0 L458.5,374.5 L458.9,374.5 L459.2,360.5 L459.5,361.9 L459.8,364.3 L460.2,361.4 L460.5,366.8 L460.8,382.0 L461.2,393.3 L461.5,404.0 L461.8,396.0 L462.1,393.8 L462.5,396.1 L462.8,384.3 L463.1,385.7 L463.5,401.0 L463.8,406.9 L464.1,410.6 L464.5,424.7 L464.8,411.7 L465.1,420.7 L465.4,423.7 L465.8,441.8 L466.1,446.3 L466.4,459.8 L466.8,456.3 L467.1,441.6 L467.4,437.6 L467.8,426.4 L468.1,423.7 L468.4,425.9 L468.7,426.2 L469.1,418.0 L469.4,421.2 L469.7,417.1 L470.1,402.9 L470.4,416.3 L470.7,404.3 L471.1,407.8 L471.3,394.2 L471.7,396.8 L472.0,416.4 L472.4,419.2 L472.7,434.9 L473.0,436.8 L473.4,430.5 L473.7,439.3 L474.0,429.0 L474.4,429.6 L474.6,430.2 L475.0,429.6 L475.3,440.5 L475.7,459.1 L476.0,462.2 L476.3,469.6 L476.7,470.8 L477.0,480.1 L477.3,480.8 L477.7,488.5 L477.9,486.0 L478.3,462.1 L478.6,472.2 L479.0,466.3 L479.3,444.1 L479.5,446.6 L480.0,455.8 L480.3,457.9 L480.6,444.1 L481.0,451.2 L481.2,456.5 L481.6,461.7 L481.9,459.6 L482.3,465.5 L482.6,458.3 L482.8,463.0 L483.3,476.1 L483.6,462.7 L483.9,482.1 L484.3,473.5 L484.5,482.7 L484.9,472.4 L485.2,473.3 L485.6,455.0 L486.1,443.4 L486.6,435.8 L486.9,445.9 L487.2,427.7 L487.7,430.2 L488.2,433.9 L488.5,442.0 L488.9,449.1 L489.4,446.6 L489.9,444.4 L490.2,424.5 L490.5,445.1 L491.0,427.0 L491.5,429.5 L491.8,416.3 L492.2,421.4 L492.7,418.8 L493.2,423.6 L493.5,431.1 L493.8,440.3 L494.3,440.1 L494.8,421.5 L495.1,435.0 L495.5,421.8 L495.9,420.4 L496.1,422.0 L496.5,436.0 L496.8,426.9 L497.1,432.9 L497.6,433.5 L497.8,421.2 L498.1,435.6 L498.4,432.2 L498.8,421.3 L499.2,423.7 L499.4,430.5 L499.8,421.2 L500.1,424.8 L500.4,437.6 L500.9,443.4 L501.1,438.1 L501.4,437.5 L501.7,445.9 L502.1,436.7 L502.5,436.8 L502.7,434.3 L503.1,443.2 L503.4,443.7 L503.7,446.5 L504.1,459.8 L504.4,455.5 L504.7,448.2 L505.0,451.0 L505.4,444.1 L505.8,436.8 L506.0,434.3 L506.4,434.3 L506.7,435.0 L507.0,442.4 L507.4,440.1 L507.7,438.7 L508.0,442.6 L508.3,427.5 L508.7,422.9 L509.0,430.7 L509.3,417.4 L509.7,413.1 L510.0,410.6 L510.3,430.1 L510.7,442.8 L511.0,467.2 L511.3,479.4 L511.6,471.9 L512.0,463.9 L512.3,459.0 L512.6,448.2 L513.0,443.4 L513.3,445.7 L513.6,440.9 L514.0,455.7 L514.3,440.9 L514.6,453.2 L514.9,441.4 L515.3,452.1 L515.6,445.5 L515.9,437.4 L516.3,423.7 L516.6,421.2 L516.9,429.4 L517.3,427.5 L517.6,426.4 L517.9,427.0 L518.2,417.9 L518.6,429.5 L518.9,423.1 L519.2,429.5 L519.5,420.4 L519.9,429.9 L520.2,429.8 L520.6,429.6 L520.9,431.4 L521.2,436.8 L521.5,439.3 L521.9,421.2 L522.2,426.7 L522.5,431.7 L522.8,423.7 L523.2,421.2 L523.5,443.5 L523.9,456.2 L524.2,465.0 L524.5,469.6 L524.8,497.9 L525.2,501.4 L525.4,527.0 L525.8,521.3 L526.2,487.8 L526.5,481.8 L526.8,450.7 L527.1,453.2 L527.5,450.7 L527.8,452.7 L528.1,472.1 L528.5,456.3 L528.7,469.6 L529.1,449.6 L529.5,472.1 L529.8,456.5 L530.1,457.5 L530.4,449.9 L530.8,452.4 L531.1,437.6 L531.4,437.6 L531.8,451.1 L532.0,440.1 L532.4,429.8 L532.8,432.9 L533.1,429.8 L533.4,424.5 L533.6,427.0 L534.1,439.7 L534.4,457.0 L534.7,453.5 L535.1,471.2 L535.3,469.6 L535.7,462.5 L536.1,464.9 L536.4,447.8 L536.9,443.4 L537.4,440.9 L537.7,472.5 L538.0,475.4 L538.6,489.3 L539.0,488.6 L539.4,460.4 L539.7,448.5 L540.2,446.6 L540.7,442.2 L541.0,447.7 L541.3,432.1 L541.8,433.5 L542.3,435.1 L542.7,442.6 L543.0,431.6 L543.5,440.1 L544.0,431.3 L544.3,432.2 L544.6,442.6 L545.1,430.2 L545.6,427.3 L546.0,418.7 L546.3,399.9 L546.8,400.7 L547.0,398.2 L547.3,398.2 L547.6,398.9 L547.9,413.1 L548.4,410.6 L548.6,409.0 L548.9,417.6 L549.3,424.7 L549.6,415.3 L550.0,430.2 L550.3,432.7 L550.6,425.7 L550.9,426.5 L551.2,417.9 L551.7,420.4 L551.9,422.9 L552.2,412.7 L552.6,417.2 L552.9,411.4 L553.3,413.9 L553.6,408.4 L553.9,413.7 L554.2,404.7 L554.5,400.7 L555.0,400.7 L555.2,398.2 L555.5,408.6 L555.9,409.4 L556.2,418.4 L556.6,420.4 L556.9,399.0 L557.2,419.9 L557.5,402.4 L557.8,408.8 L558.2,394.2 L558.5,391.7 L558.8,407.7 L559.2,402.4 L559.5,404.1 L559.9,407.3 L560.2,407.9 L560.5,398.8 L560.8,398.2 L561.1,398.2 L561.5,400.7 L561.8,412.1 L562.1,419.0 L562.5,432.1 L562.8,441.9 L563.1,449.9 L563.5,436.5 L563.8,422.2 L564.1,421.9 L564.4,400.3 L564.8,397.5 L565.1,385.6 L565.4,392.7 L565.8,386.1 L566.1,362.2 L566.4,364.7 L566.8,358.9 L567.1,367.2 L567.4,365.9 L567.7,358.9 L568.1,361.4 L568.4,368.4 L568.7,360.8 L569.1,372.5 L569.4,370.6 L569.7,377.8 L570.1,377.3 L570.4,384.6 L570.7,389.1 L571.0,384.9 L571.3,390.9 L571.7,398.4 L572.0,400.3 L572.4,397.4 L572.7,395.7 L573.0,400.7 L573.4,403.2 L573.7,397.5 L574.0,398.5 L574.3,391.7 L574.6,394.2 L575.0,407.5 L575.3,402.8 L575.7,414.1 L576.0,419.6 L576.3,417.1 L576.7,416.7 L577.0,413.4 L577.3,413.3 L577.6,404.8 L577.9,407.3 L578.3,426.2 L578.6,415.7 L579.0,412.1 L579.3,408.8 L579.5,423.7 L580.0,421.2 L580.3,432.7 L580.6,426.1 L580.9,427.1 L581.2,430.2 L581.6,438.1 L581.9,452.4 L582.3,460.4 L582.6,460.3 L582.8,466.3 L583.3,461.4 L583.6,452.1 L583.9,454.2 L584.2,438.7 L584.5,440.1 L584.9,437.6 L585.2,451.6 L585.6,445.8 L585.9,452.4 L586.1,449.9 L586.6,449.6 L586.9,437.0 L587.2,437.4 L587.7,430.2 L588.2,430.4 L588.5,435.8 L588.9,446.5 L589.4,453.2 L589.9,456.2 L590.2,469.1 L590.5,479.2 L591.0,479.4 L591.5,469.0 L591.8,456.8 L592.2,454.8 L592.7,433.5 L593.2,431.0 L593.5,439.0 L593.8,455.7 L594.3,453.2 L594.8,453.6 L595.1,442.4 L595.5,440.8 L595.9,440.1 L596.5,442.6 L596.8,434.3 L597.1,437.2 L597.6,430.2 L597.8,427.7 L598.1,444.2 L598.4,443.4 L598.8,439.9 L599.2,449.9 L599.4,447.4 L599.8,447.4 L600.1,452.9 L600.4,447.4 L600.9,453.2 L601.1,455.5 L601.4,484.9 L601.8,494.2" fill="none" stroke="#48c683" stroke-width="1.5" stroke-linejoin="round"/>
<line x1="100.6" y1="435.4" x2="623.2" y2="435.4" stroke="#111" stroke-width="1.4" stroke-dasharray="4.62 4.626"/>
<text x="0" y="0" font-family="Liberation Sans" font-size="15.1" font-weight="normal" text-anchor="start" fill="#111" stroke="#111" stroke-width="0.3" transform="translate(45,29.1) scale(1.053,1)">Bitcoin Price vs Cryptoasset Sentiment Index</text>
<text x="100.5" y="56" font-family="Liberation Sans" font-size="14.5" font-weight="bold" text-anchor="start" fill="#111" stroke="#111" stroke-width="0.15" >Bitcoin Price</text>
<text x="100.5" y="334" font-family="Liberation Sans" font-size="14.5" font-weight="bold" text-anchor="start" fill="#111" stroke="#111" stroke-width="0.15" >Cryptoasset Sentiment Index</text>
<text x="517.3" y="49.1" font-family="Liberation Serif" font-size="15.2" font-weight="bold" letter-spacing="0.3" fill="#111" stroke="#111" stroke-width="0.1">Bitwise</text>
<circle cx="568.4" cy="42.5" r="1.2" fill="#666" stroke="#333" stroke-width="0.4"/>
<text x="517.3" y="327.3" font-family="Liberation Serif" font-size="15.2" font-weight="bold" letter-spacing="0.3" fill="#111" stroke="#111" stroke-width="0.1">Bitwise</text>
<circle cx="568.4" cy="320.7" r="1.2" fill="#666" stroke="#333" stroke-width="0.4"/>
<text x="94.6" y="86" font-family="Liberation Sans" font-size="11.9" font-weight="normal" text-anchor="end" fill="#222222" stroke="#222222" stroke-width="0.3" >1e+05</text>
<text x="94.6" y="156" font-family="Liberation Sans" font-size="11.9" font-weight="normal" text-anchor="end" fill="#222222" stroke="#222222" stroke-width="0.3" >5e+04</text>
<text x="94.6" y="208" font-family="Liberation Sans" font-size="11.9" font-weight="normal" text-anchor="end" fill="#222222" stroke="#222222" stroke-width="0.3" >3e+04</text>
<text x="94.6" y="386.7" font-family="Liberation Sans" font-size="11.9" font-weight="normal" text-anchor="end" fill="#222222" stroke="#222222" stroke-width="0.3" >1</text>
<text x="94.6" y="439.7" font-family="Liberation Sans" font-size="11.9" font-weight="normal" text-anchor="end" fill="#222222" stroke="#222222" stroke-width="0.3" >0</text>
<text x="94.6" y="493.8" font-family="Liberation Sans" font-size="11.9" font-weight="normal" text-anchor="end" fill="#222222" stroke="#222222" stroke-width="0.3" >-1</text>
<text x="94.6" y="547.6" font-family="Liberation Sans" font-size="11.9" font-weight="normal" text-anchor="end" fill="#222222" stroke="#222222" stroke-width="0.3" >-2</text>
<text x="0" y="0" font-family="Liberation Sans" font-size="13.4" font-weight="normal" text-anchor="middle" fill="#111" stroke="#111" stroke-width="0.3" transform="translate(55.3,171) rotate(-90)">BTC/USD (Log)</text>
<text x="0" y="0" font-family="Liberation Sans" font-size="13.4" font-weight="normal" text-anchor="middle" fill="#111" stroke="#111" stroke-width="0.3" transform="translate(55.3,449) rotate(-90)">Index</text>
<line x1="175.0" y1="278.0" x2="175.0" y2="281.3" stroke="#222" stroke-width="1.3"/>
<text x="175.0" y="295.2" font-family="Liberation Sans" font-size="11.8" font-weight="normal" text-anchor="middle" fill="#222222" stroke="#222222" stroke-width="0.3" >05-2022</text>
<line x1="252.9" y1="278.0" x2="252.9" y2="281.3" stroke="#222" stroke-width="1.3"/>
<text x="252.9" y="295.2" font-family="Liberation Sans" font-size="11.8" font-weight="normal" text-anchor="middle" fill="#222222" stroke="#222222" stroke-width="0.3" >11-2022</text>
<line x1="329.5" y1="278.0" x2="329.5" y2="281.3" stroke="#222" stroke-width="1.3"/>
<text x="329.5" y="295.2" font-family="Liberation Sans" font-size="11.8" font-weight="normal" text-anchor="middle" fill="#222222" stroke="#222222" stroke-width="0.3" >05-2023</text>
<line x1="407.4" y1="278.0" x2="407.4" y2="281.3" stroke="#222" stroke-width="1.3"/>
<text x="407.4" y="295.2" font-family="Liberation Sans" font-size="11.8" font-weight="normal" text-anchor="middle" fill="#222222" stroke="#222222" stroke-width="0.3" >11-2023</text>
<line x1="484.5" y1="278.0" x2="484.5" y2="281.3" stroke="#222" stroke-width="1.3"/>
<text x="484.5" y="295.2" font-family="Liberation Sans" font-size="11.8" font-weight="normal" text-anchor="middle" fill="#222222" stroke="#222222" stroke-width="0.3" >05-2024</text>
<line x1="562.4" y1="278.0" x2="562.4" y2="281.3" stroke="#222" stroke-width="1.3"/>
<text x="562.4" y="295.2" font-family="Liberation Sans" font-size="11.8" font-weight="normal" text-anchor="middle" fill="#222222" stroke="#222222" stroke-width="0.3" >11-2024</text>
<line x1="175.0" y1="555.6" x2="175.0" y2="558.9" stroke="#222" stroke-width="1.3"/>
<text x="175.0" y="573.2" font-family="Liberation Sans" font-size="11.8" font-weight="normal" text-anchor="middle" fill="#222222" stroke="#222222" stroke-width="0.3" >05-2022</text>
<line x1="252.9" y1="555.6" x2="252.9" y2="558.9" stroke="#222" stroke-width="1.3"/>
<text x="252.9" y="573.2" font-family="Liberation Sans" font-size="11.8" font-weight="normal" text-anchor="middle" fill="#222222" stroke="#222222" stroke-width="0.3" >11-2022</text>
<line x1="329.5" y1="555.6" x2="329.5" y2="558.9" stroke="#222" stroke-width="1.3"/>
<text x="329.5" y="573.2" font-family="Liberation Sans" font-size="11.8" font-weight="normal" text-anchor="middle" fill="#222222" stroke="#222222" stroke-width="0.3" >05-2023</text>
<line x1="407.4" y1="555.6" x2="407.4" y2="558.9" stroke="#222" stroke-width="1.3"/>
<text x="407.4" y="573.2" font-family="Liberation Sans" font-size="11.8" font-weight="normal" text-anchor="middle" fill="#222222" stroke="#222222" stroke-width="0.3" >11-2023</text>
<line x1="484.5" y1="555.6" x2="484.5" y2="558.9" stroke="#222" stroke-width="1.3"/>
<text x="484.5" y="573.2" font-family="Liberation Sans" font-size="11.8" font-weight="normal" text-anchor="middle" fill="#222222" stroke="#222222" stroke-width="0.3" >05-2024</text>
<line x1="562.4" y1="555.6" x2="562.4" y2="558.9" stroke="#222" stroke-width="1.3"/>
<text x="562.4" y="573.2" font-family="Liberation Sans" font-size="11.8" font-weight="normal" text-anchor="middle" fill="#222222" stroke="#222222" stroke-width="0.3" >11-2024</text>
<text x="625.8" y="609.7" font-family="Liberation Sans" font-size="10.55" font-weight="normal" text-anchor="end" fill="#111" stroke="#111" stroke-width="0.3" >Source: Bloomberg, Coinmarketcap, Glassnode, NilssonHedge, alternative.me, Bitwise Europe</text>
</svg>
</body></html>
